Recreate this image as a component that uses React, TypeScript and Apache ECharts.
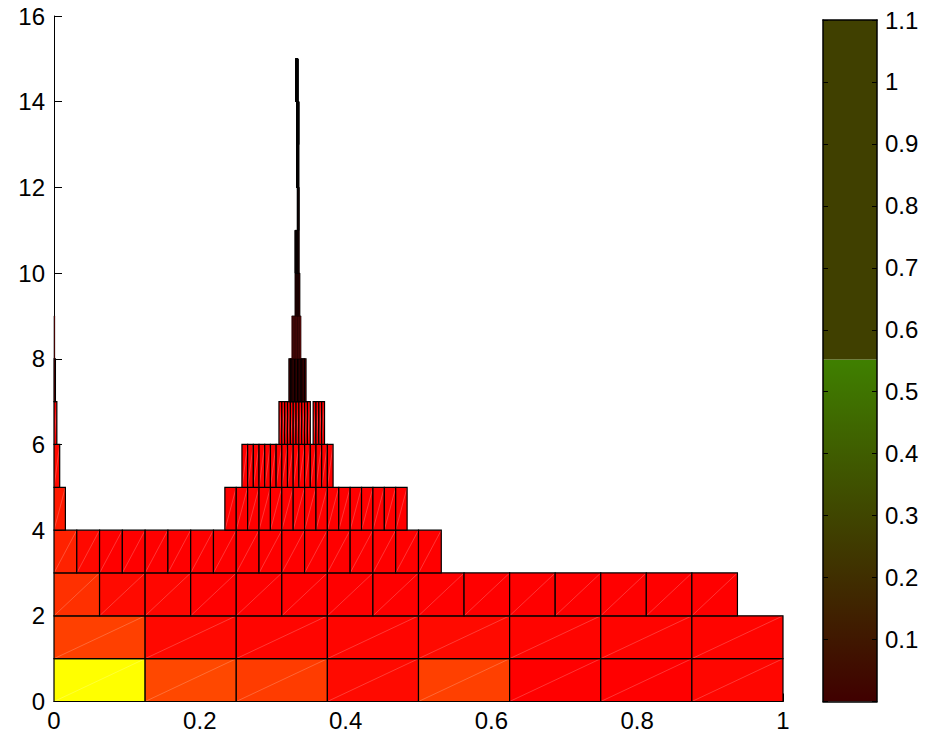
import React, { useEffect, useRef } from 'react';
import * as echarts from 'echarts';

// Mesh rows: row k spans y = k .. k+1; cells are 1/division wide.
const rowDivisions = [8, 8, 16, 32, 64, 128, 256, 512, 1024, 2048, 4096, 8192, 16384, 32768, 65536];
// Occupied cell index ranges [start, end) per row
const rowRanges: number[][][] = [
  [[0, 8]],
  [[0, 8]],
  [[0, 15]],
  [[0, 17]],
  [[0, 1], [15, 31]],
  [[0, 1], [33, 49]],
  [[0, 1], [79, 90], [91, 95]],
  [[0, 1], [165, 177]],
  [[0, 1], [334, 347]],
  [[677, 691]],
  [[1354, 1377]],
  [[2734, 2753]],
  [[5455, 5500]],
  [[10910, 11000]],
  [[21757, 21909]],
];
// Colours of the first cells of each row (in order); the rest are pure red
const rowLeadColors: string[][] = [
  ['#ffff00', '#ff4800', '#ff3c00', '#ff0a00', '#ff4000', '#ff0000', '#ff0000', '#ff0600'],
  ['#ff4000', '#ff0800', '#ff0500', '#ff0500', '#ff0a00', '#ff0400', '#ff0400', '#ff0400'],
  ['#ff3000', '#ff0a00', '#ff0600'],
  ['#ff2200', '#ff0800'],
  ['#ff1a00'],
  ['#ff0a00'],
];
const defaultCellColor = '#ff0000';

const xTicks = { min: 0, max: 1, interval: 0.2 };
const yTicks = { min: 0, max: 16, interval: 2 };

// Colour bar
const colorbarRange = { min: 0, max: 1.1, interval: 0.1 };
const colorbarBands: [number, number, string, string][] = [
  [0, 0.552, '#400000', '#3f8000'],
  [0.552, 1.1, '#404000', '#404000'],
];

const FONT = 'Arial, "Liberation Sans", Helvetica, sans-serif';

export default function App() {
  const ref = useRef<HTMLDivElement>(null);
  useEffect(() => {
    document.body.style.margin = '0';
    const chart = echarts.init(ref.current!, null, { renderer: 'svg' });

    const cells: number[][] = [];
    const cellColors: string[] = [];
    rowDivisions.forEach((div, row) => {
      let n = 0;
      rowRanges[row].forEach(([s, e]) => {
        for (let i = s; i < e; i++) {
          cells.push([i / div, (i + 1) / div, row, row + 1]);
          const lead = rowLeadColors[row];
          cellColors.push(lead && lead[n] ? lead[n] : defaultCellColor);
          n++;
        }
      });
    });

    const labelStyle = { color: '#000', fontSize: 24, fontFamily: FONT };

    const option: any = {
      animation: false,
      backgroundColor: '#fff',
      grid: [
        { left: 54, top: 16, width: 729, height: 685.5, containLabel: false },
        { left: 823, top: 20, width: 54, height: 681.5, containLabel: false },
      ],
      xAxis: [
        {
          gridIndex: 0, type: 'value', min: xTicks.min, max: xTicks.max, interval: xTicks.interval,
          axisLine: { show: true, lineStyle: { color: '#000', width: 1 } },
          axisTick: { show: true, inside: true, length: 8, lineStyle: { color: '#000' } },
          axisLabel: { ...labelStyle, margin: 7, formatter: (v: number) => String(+v.toFixed(1)) },
          splitLine: { show: false },
        },
        {
          gridIndex: 1, type: 'value', min: 0, max: 1, position: 'bottom', z: 5,
          axisLine: { show: true, onZero: false, lineStyle: { color: '#000', width: 1.5 } },
          axisTick: { show: false }, axisLabel: { show: false }, splitLine: { show: false },
        },
        {
          gridIndex: 1, type: 'value', min: 0, max: 1, position: 'top', z: 5,
          axisLine: { show: true, onZero: false, lineStyle: { color: '#000', width: 1.5 } },
          axisTick: { show: false }, axisLabel: { show: false }, splitLine: { show: false },
        },
      ],
      yAxis: [
        {
          gridIndex: 0, type: 'value', min: yTicks.min, max: yTicks.max, interval: yTicks.interval,
          axisLine: { show: true, lineStyle: { color: '#000', width: 1 } },
          axisTick: { show: true, inside: true, length: 8, lineStyle: { color: '#000' } },
          axisLabel: { ...labelStyle, margin: 9 },
          splitLine: { show: false },
        },
        {
          gridIndex: 1, type: 'value', position: 'right', z: 5,
          min: colorbarRange.min, max: colorbarRange.max, interval: colorbarRange.interval,
          axisLine: { show: true, onZero: false, lineStyle: { color: '#000', width: 1.5 } },
          axisTick: { show: true, inside: true, length: 5, lineStyle: { color: '#000' } },
          axisLabel: {
            ...labelStyle, margin: 8,
            formatter: (v: number) => (Math.abs(v) < 1e-9 ? '' : String(+v.toFixed(1))),
          },
          splitLine: { show: false },
        },
        {
          gridIndex: 1, type: 'value', position: 'left', z: 5,
          min: colorbarRange.min, max: colorbarRange.max, interval: colorbarRange.interval,
          axisLine: { show: true, onZero: false, lineStyle: { color: '#000', width: 1.5 } },
          axisTick: { show: true, inside: true, length: 5, lineStyle: { color: '#000' } },
          axisLabel: { show: false },
          splitLine: { show: false },
        },
      ],
      series: [
        {
          type: 'custom',
          xAxisIndex: 0,
          yAxisIndex: 0,
          data: cells,
          encode: { x: [0, 1], y: [2, 3] },
          renderItem: (params: any, api: any) => {
            const a = api.coord([api.value(0), api.value(2)]);
            const b = api.coord([api.value(1), api.value(3)]);
            const w = b[0] - a[0];
            const h = a[1] - b[1];
            const color = cellColors[params.dataIndex];
            const children: any[] = [
              { type: 'rect', shape: { x: a[0], y: b[1], width: w, height: h }, style: { fill: color } },
            ];
            if (w > 2) {
              children.push({
                type: 'line',
                shape: { x1: a[0], y1: a[1], x2: b[0], y2: b[1] },
                style: { stroke: 'rgba(255,255,255,0.35)', lineWidth: 0.6 },
              });
            }
            children.push({
              type: 'rect',
              shape: { x: a[0], y: b[1], width: w, height: h },
              style: { fill: 'none', stroke: '#000', lineWidth: w < 1 ? 0.6 : 1.2 },
            });
            return { type: 'group', children };
          },
        },
        {
          type: 'custom',
          xAxisIndex: 1,
          yAxisIndex: 1,
          data: colorbarBands.map((b) => [b[0], b[1]]),
          renderItem: (params: any, api: any) => {
            const band = colorbarBands[params.dataIndex];
            const a = api.coord([0, api.value(0)]);
            const b = api.coord([1, api.value(1)]);
            return {
              type: 'rect',
              shape: { x: a[0], y: b[1], width: b[0] - a[0], height: a[1] - b[1] },
              style: {
                fill: new echarts.graphic.LinearGradient(0, 1, 0, 0, [
                  { offset: 0, color: band[2] },
                  { offset: 1, color: band[3] },
                ]),
              },
            };
          },
        },
      ],
    };
    chart.setOption(option);
    return () => chart.dispose();
  }, []);
  return <div ref={ref} style={{ width: 926, height: 742 }} />;
}
